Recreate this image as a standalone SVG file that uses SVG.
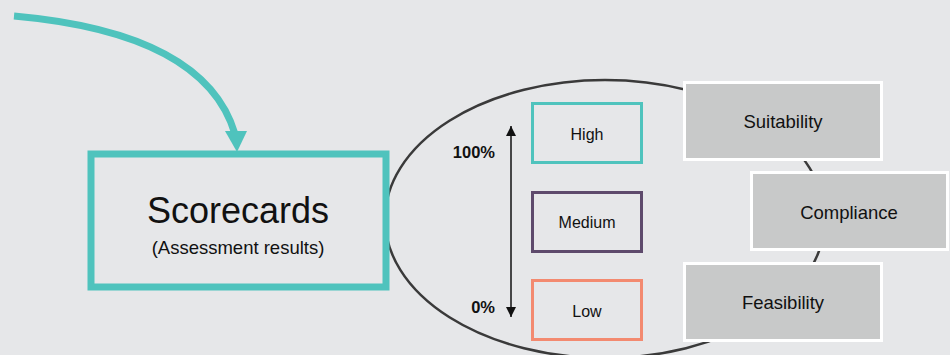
<svg xmlns="http://www.w3.org/2000/svg" width="950" height="355" viewBox="0 0 950 355">
<style>
text{font-family:"Liberation Sans",Arial,sans-serif;fill:#111;text-anchor:middle}
.lvl{fill:none;stroke-width:3}
.crit{fill:#c8c9c9;stroke:#ffffff;stroke-width:3}
.ct{font-size:18.5px}
.lt{font-size:16px}
.pct{font-size:16.5px;font-weight:bold;text-anchor:end}
</style>
<defs>
<marker id="ah" viewBox="0 0 10 10" refX="10" refY="5" markerWidth="10" markerHeight="11" markerUnits="userSpaceOnUse" orient="auto-start-reverse">
<path d="M0,0 L10,5 L0,10 Z" fill="#111"/>
</marker>
</defs>
<rect width="950" height="355" fill="#e6e7e9"/>
<g id="scope">
<ellipse cx="605" cy="219" rx="220" ry="139" fill="none" stroke="#3a3a3a" stroke-width="2.5"/>
</g>
<g id="connectors">
<path d="M14,16 Q205,33 235,134" fill="none" stroke="#4fc3bd" stroke-width="7"/>
<polygon points="225,131 247,131 237,152" fill="#4fc3bd"/>
<line x1="511" y1="126" x2="511" y2="317" stroke="#111" stroke-width="1.5" marker-start="url(#ah)" marker-end="url(#ah)"/>
</g>
<g id="scorecards">
<rect x="91" y="154" width="295" height="133" fill="none" stroke="#4fc3bd" stroke-width="7"/>
<text x="238" y="223" style="font-size:36px">Scorecards</text>
<text x="238" y="254" style="font-size:18.5px">(Assessment results)</text>
</g>
<g id="scale">
<text class="pct" x="495" y="158">100%</text>
<text class="pct" x="495" y="313">0%</text>
</g>
<g id="high">
<rect class="lvl" x="532.5" y="103.5" width="109" height="59" stroke="#4fc3bd"/>
<text class="lt" x="587" y="140">High</text>
</g>
<g id="medium">
<rect class="lvl" x="532.5" y="192.5" width="109" height="59" stroke="#5e4a6c"/>
<text class="lt" x="587" y="228">Medium</text>
</g>
<g id="low">
<rect class="lvl" x="532.5" y="280.5" width="109" height="59" stroke="#f38a70"/>
<text class="lt" x="587" y="317">Low</text>
</g>
<g id="suitability">
<rect class="crit" x="684.5" y="82.5" width="197" height="77"/>
<text class="ct" x="783" y="128">Suitability</text>
</g>
<g id="compliance">
<rect class="crit" x="751.5" y="172.5" width="196" height="77"/>
<text class="ct" x="849" y="219">Compliance</text>
</g>
<g id="feasibility">
<rect class="crit" x="684.5" y="263.5" width="197" height="77"/>
<text class="ct" x="783" y="309">Feasibility</text>
</g>
</svg>
